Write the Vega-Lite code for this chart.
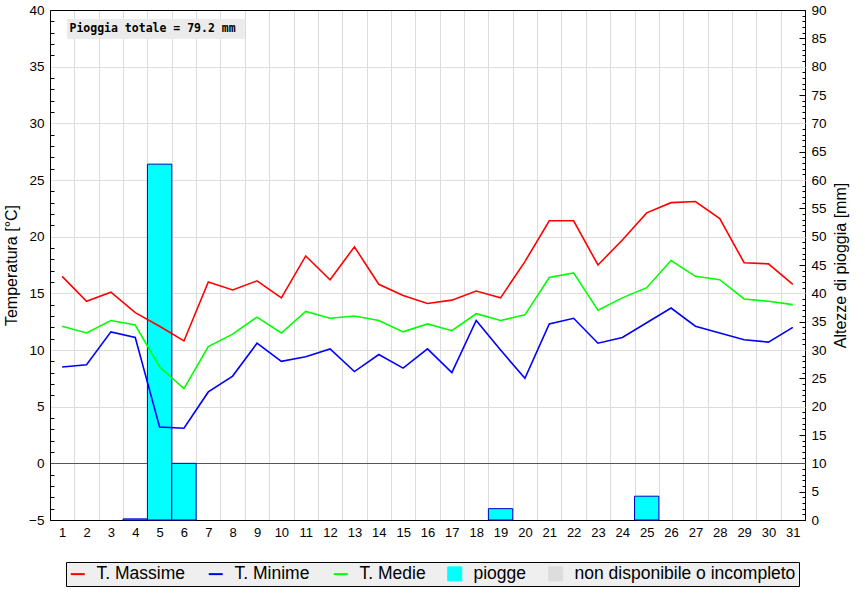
{
  "$schema": "https://vega.github.io/schema/vega-lite/v6.json",
  "width": 755,
  "height": 510,
  "autosize": {"type": "none"},
  "padding": {"left": 50, "top": 10, "right": 60, "bottom": 80},
  "background": "white",
  "config": {
    "view": {"stroke": "black", "strokeWidth": 1},
    "font": "Liberation Sans",
    "axis": {"domainColor": "black", "tickColor": "black", "labelColor": "black", "titleColor": "black", "labelFont": "Liberation Sans", "titleFont": "Liberation Sans", "titleFontWeight": "normal", "domainWidth": 1, "grid": false}
  },
  "data": {"values": [
    {"day": 1, "tmax": 16.5, "tmin": 8.5, "tmed": 12.1, "rain": 0},
    {"day": 2, "tmax": 14.3, "tmin": 8.7, "tmed": 11.5, "rain": 0},
    {"day": 3, "tmax": 15.1, "tmin": 11.6, "tmed": 12.6, "rain": 0},
    {"day": 4, "tmax": 13.3, "tmin": 11.1, "tmed": 12.2, "rain": 0.2},
    {"day": 5, "tmax": 12.1, "tmin": 3.2, "tmed": 8.5, "rain": 62.8},
    {"day": 6, "tmax": 10.8, "tmin": 3.1, "tmed": 6.6, "rain": 10.0},
    {"day": 7, "tmax": 16.0, "tmin": 6.3, "tmed": 10.3, "rain": 0},
    {"day": 8, "tmax": 15.3, "tmin": 7.7, "tmed": 11.4, "rain": 0},
    {"day": 9, "tmax": 16.1, "tmin": 10.6, "tmed": 12.9, "rain": 0},
    {"day": 10, "tmax": 14.6, "tmin": 9.0, "tmed": 11.5, "rain": 0},
    {"day": 11, "tmax": 18.3, "tmin": 9.4, "tmed": 13.4, "rain": 0},
    {"day": 12, "tmax": 16.2, "tmin": 10.1, "tmed": 12.8, "rain": 0},
    {"day": 13, "tmax": 19.1, "tmin": 8.1, "tmed": 13.0, "rain": 0},
    {"day": 14, "tmax": 15.8, "tmin": 9.6, "tmed": 12.6, "rain": 0},
    {"day": 15, "tmax": 14.8, "tmin": 8.4, "tmed": 11.6, "rain": 0},
    {"day": 16, "tmax": 14.1, "tmin": 10.1, "tmed": 12.3, "rain": 0},
    {"day": 17, "tmax": 14.4, "tmin": 8.0, "tmed": 11.7, "rain": 0},
    {"day": 18, "tmax": 15.2, "tmin": 12.6, "tmed": 13.2, "rain": 0},
    {"day": 19, "tmax": 14.6, "tmin": 10.0, "tmed": 12.6, "rain": 2.0},
    {"day": 20, "tmax": 17.8, "tmin": 7.5, "tmed": 13.1, "rain": 0},
    {"day": 21, "tmax": 21.4, "tmin": 12.3, "tmed": 16.4, "rain": 0},
    {"day": 22, "tmax": 21.4, "tmin": 12.8, "tmed": 16.8, "rain": 0},
    {"day": 23, "tmax": 17.5, "tmin": 10.6, "tmed": 13.5, "rain": 0},
    {"day": 24, "tmax": 19.7, "tmin": 11.1, "tmed": 14.6, "rain": 0},
    {"day": 25, "tmax": 22.1, "tmin": 12.4, "tmed": 15.5, "rain": 4.2},
    {"day": 26, "tmax": 23.0, "tmin": 13.7, "tmed": 17.9, "rain": 0},
    {"day": 27, "tmax": 23.1, "tmin": 12.1, "tmed": 16.5, "rain": 0},
    {"day": 28, "tmax": 21.6, "tmin": 11.5, "tmed": 16.2, "rain": 0},
    {"day": 29, "tmax": 17.7, "tmin": 10.9, "tmed": 14.5, "rain": 0},
    {"day": 30, "tmax": 17.6, "tmin": 10.7, "tmed": 14.3, "rain": 0},
    {"day": 31, "tmax": 15.8, "tmin": 12.0, "tmed": 14.0, "rain": 0}
  ]},
  "encoding": {
    "x": {"field": "day", "type": "ordinal",
      "scale": {"type": "band", "paddingInner": 0, "paddingOuter": 0, "domain": [1,2,3,4,5,6,7,8,9,10,11,12,13,14,15,16,17,18,19,20,21,22,23,24,25,26,27,28,29,30,31]},
      "axis": {"orient": "bottom", "title": null, "tickBand": "extent", "grid": false, "labelAngle": 0, "labelFontSize": 13, "tickSize": -510, "labelPadding": 516, "tickColor": "#dcdcdc"}}
  },
  "layer": [
    {
      "transform": [{"filter": "datum.rain > 0"}],
      "mark": {"type": "bar", "fill": "#00ffff", "stroke": "#0000cc", "strokeWidth": 1},
      "encoding": {
        "y": {"field": "rain", "type": "quantitative", "scale": {"domain": [0, 90], "nice": false},
          "axis": {"orient": "right", "title": "Altezze di pioggia [mm]", "titleFontSize": 16, "titleAngle": 270, "titleBaseline": "top", "titlePadding": 6,
            "values": [0,1,2,3,4,5,6,7,8,9,10,11,12,13,14,15,16,17,18,19,20,21,22,23,24,25,26,27,28,29,30,31,32,33,34,35,36,37,38,39,40,41,42,43,44,45,46,47,48,49,50,51,52,53,54,55,56,57,58,59,60,61,62,63,64,65,66,67,68,69,70,71,72,73,74,75,76,77,78,79,80,81,82,83,84,85,86,87,88,89,90],
            "labelExpr": "datum.value % 5 === 0 ? datum.label : ''", "labelOverlap": false, "labelFontSize": 13.5, "labelPadding": 12, "tickSize": -6, "grid": false,
            "tickDash": {"condition": {"test": "datum.value % 5 === 0", "value": []}, "value": [3, 100]}}},
        "color": {"datum": "piogge",
          "scale": {"domain": ["T. Massime", "T. Minime", "T. Medie", "piogge", "non disponibile o incompleto"], "range": ["#ff0000", "#0000ff", "#00ff00", "#00ffff", "#dddddd"]},
          "legend": {"orient": "none", "legendX": 16, "legendY": 552, "direction": "horizontal", "title": null,
            "labelFontSize": 17.5, "labelFont": "Liberation Sans", "labelColor": "black", "labelOffset": 10, "columnPadding": 19, "labelLimit": 400,
            "symbolSize": 196, "strokeColor": "black", "fillColor": "#efefef", "padding": 3,
            "symbolType": {"expr": "datum.value === 'piogge' || datum.value === 'non disponibile o incompleto' ? 'square' : 'stroke'"},
            "symbolStrokeColor": {"expr": "datum.value === 'piogge' ? '#0000aa' : datum.value === 'non disponibile o incompleto' ? '#333333' : datum.value === 'T. Massime' ? '#ff0000' : datum.value === 'T. Minime' ? '#0000ff' : '#00ff00'"},
            "symbolStrokeWidth": {"expr": "datum.value === 'piogge' || datum.value === 'non disponibile o incompleto' ? 1 : 2"},
            "symbolOpacity": 1}}
      }
    },
    {
      "layer": [
        {
          "mark": {"type": "line", "strokeWidth": 1.6},
          "encoding": {
            "y": {"field": "tmax", "type": "quantitative", "scale": {"domain": [-5, 40], "nice": false},
              "axis": {"orient": "left", "title": "Temperatura [°C]", "titleFontSize": 16, "titlePadding": 9,
                "values": [-5,-4,-3,-2,-1,0,1,2,3,4,5,6,7,8,9,10,11,12,13,14,15,16,17,18,19,20,21,22,23,24,25,26,27,28,29,30,31,32,33,34,35,36,37,38,39,40],
                "labelExpr": "datum.value % 5 === 0 ? datum.label : ''", "labelOverlap": false, "labelFontSize": 13.5, "tickSize": -755, "labelPadding": 761, "grid": false,
                "tickColor": {"condition": [{"test": "datum.value === 0", "value": "#555555"}, {"test": "datum.value === 40 || datum.value === -5", "value": "black"}, {"test": "datum.value % 5 === 0", "value": "#dcdcdc"}], "value": "black"},
                "tickDash": {"condition": {"test": "datum.value % 5 === 0", "value": []}, "value": [4, 2000]}}},
            "color": {"datum": "T. Massime", "scale": {"domain": ["T. Massime", "T. Minime", "T. Medie", "piogge", "non disponibile o incompleto"], "range": ["#ff0000", "#0000ff", "#00ff00", "#00ffff", "#dddddd"]}, "legend": null}
          }
        },
        {
          "mark": {"type": "line", "strokeWidth": 1.6},
          "encoding": {
            "y": {"field": "tmin", "type": "quantitative", "scale": {"domain": [-5, 40], "nice": false},
              "axis": {"orient": "left", "title": "Temperatura [°C]", "titleFontSize": 16, "titlePadding": 9,
                "values": [-5,-4,-3,-2,-1,0,1,2,3,4,5,6,7,8,9,10,11,12,13,14,15,16,17,18,19,20,21,22,23,24,25,26,27,28,29,30,31,32,33,34,35,36,37,38,39,40],
                "labelExpr": "datum.value % 5 === 0 ? datum.label : ''", "labelOverlap": false, "labelFontSize": 13.5, "tickSize": -755, "labelPadding": 761, "grid": false,
                "tickColor": {"condition": [{"test": "datum.value === 0", "value": "#555555"}, {"test": "datum.value === 40 || datum.value === -5", "value": "black"}, {"test": "datum.value % 5 === 0", "value": "#dcdcdc"}], "value": "black"},
                "tickDash": {"condition": {"test": "datum.value % 5 === 0", "value": []}, "value": [4, 2000]}}},
            "color": {"datum": "T. Minime", "scale": {"domain": ["T. Massime", "T. Minime", "T. Medie", "piogge", "non disponibile o incompleto"], "range": ["#ff0000", "#0000ff", "#00ff00", "#00ffff", "#dddddd"]}, "legend": null}
          }
        },
        {
          "mark": {"type": "line", "strokeWidth": 1.6},
          "encoding": {
            "y": {"field": "tmed", "type": "quantitative", "scale": {"domain": [-5, 40], "nice": false},
              "axis": {"orient": "left", "title": "Temperatura [°C]", "titleFontSize": 16, "titlePadding": 9,
                "values": [-5,-4,-3,-2,-1,0,1,2,3,4,5,6,7,8,9,10,11,12,13,14,15,16,17,18,19,20,21,22,23,24,25,26,27,28,29,30,31,32,33,34,35,36,37,38,39,40],
                "labelExpr": "datum.value % 5 === 0 ? datum.label : ''", "labelOverlap": false, "labelFontSize": 13.5, "tickSize": -755, "labelPadding": 761, "grid": false,
                "tickColor": {"condition": [{"test": "datum.value === 0", "value": "#555555"}, {"test": "datum.value === 40 || datum.value === -5", "value": "black"}, {"test": "datum.value % 5 === 0", "value": "#dcdcdc"}], "value": "black"},
                "tickDash": {"condition": {"test": "datum.value % 5 === 0", "value": []}, "value": [4, 2000]}}},
            "color": {"datum": "T. Medie", "scale": {"domain": ["T. Massime", "T. Minime", "T. Medie", "piogge", "non disponibile o incompleto"], "range": ["#ff0000", "#0000ff", "#00ff00", "#00ffff", "#dddddd"]}, "legend": null}
          }
        },
        {
          "data": {"values": [{"day": 1, "endday": 8, "label": "Pioggia totale = 79.2 mm"}]},
          "mark": {"type": "rect", "fill": "#ebebeb"},
          "encoding": {
            "x": {"field": "day", "type": "ordinal", "bandPosition": 0.7,
              "scale": {"type": "band", "paddingInner": 0, "paddingOuter": 0, "domain": [1,2,3,4,5,6,7,8,9,10,11,12,13,14,15,16,17,18,19,20,21,22,23,24,25,26,27,28,29,30,31]},
              "axis": {"orient": "bottom", "title": null, "tickBand": "extent", "grid": false, "labelAngle": 0, "labelFontSize": 13, "tickSize": -510, "labelPadding": 516, "tickColor": "#dcdcdc"}},
            "x2": {"field": "endday", "bandPosition": 1},
            "y": {"datum": 39.2, "type": "quantitative", "scale": {"domain": [-5, 40], "nice": false},
              "axis": {"orient": "left", "title": "Temperatura [°C]", "titleFontSize": 16, "titlePadding": 9,
                "values": [-5,-4,-3,-2,-1,0,1,2,3,4,5,6,7,8,9,10,11,12,13,14,15,16,17,18,19,20,21,22,23,24,25,26,27,28,29,30,31,32,33,34,35,36,37,38,39,40],
                "labelExpr": "datum.value % 5 === 0 ? datum.label : ''", "labelOverlap": false, "labelFontSize": 13.5, "tickSize": -755, "labelPadding": 761, "grid": false,
                "tickColor": {"condition": [{"test": "datum.value === 0", "value": "#555555"}, {"test": "datum.value === 40 || datum.value === -5", "value": "black"}, {"test": "datum.value % 5 === 0", "value": "#dcdcdc"}], "value": "black"},
                "tickDash": {"condition": {"test": "datum.value % 5 === 0", "value": []}, "value": [4, 2000]}}},
            "y2": {"datum": 37.45}
          }
        },
        {
          "data": {"values": [{"day": 1, "endday": 8, "label": "Pioggia totale = 79.2 mm"}]},
          "mark": {"type": "text", "align": "left", "baseline": "middle", "font": "DejaVu Sans Mono", "fontWeight": "bold", "fontSize": 11.5, "color": "black"},
          "encoding": {
            "x": {"field": "day", "type": "ordinal", "bandPosition": 0.8,
              "scale": {"type": "band", "paddingInner": 0, "paddingOuter": 0, "domain": [1,2,3,4,5,6,7,8,9,10,11,12,13,14,15,16,17,18,19,20,21,22,23,24,25,26,27,28,29,30,31]},
              "axis": {"orient": "bottom", "title": null, "tickBand": "extent", "grid": false, "labelAngle": 0, "labelFontSize": 13, "tickSize": -510, "labelPadding": 516, "tickColor": "#dcdcdc"}},
            "y": {"datum": 38.3, "type": "quantitative", "scale": {"domain": [-5, 40], "nice": false},
              "axis": {"orient": "left", "title": "Temperatura [°C]", "titleFontSize": 16, "titlePadding": 9,
                "values": [-5,-4,-3,-2,-1,0,1,2,3,4,5,6,7,8,9,10,11,12,13,14,15,16,17,18,19,20,21,22,23,24,25,26,27,28,29,30,31,32,33,34,35,36,37,38,39,40],
                "labelExpr": "datum.value % 5 === 0 ? datum.label : ''", "labelOverlap": false, "labelFontSize": 13.5, "tickSize": -755, "labelPadding": 761, "grid": false,
                "tickColor": {"condition": [{"test": "datum.value === 0", "value": "#555555"}, {"test": "datum.value === 40 || datum.value === -5", "value": "black"}, {"test": "datum.value % 5 === 0", "value": "#dcdcdc"}], "value": "black"},
                "tickDash": {"condition": {"test": "datum.value % 5 === 0", "value": []}, "value": [4, 2000]}}},
            "text": {"field": "label", "type": "nominal"}
          }
        }
      ]
    }
  ],
  "resolve": {"scale": {"y": "independent"}}
}
